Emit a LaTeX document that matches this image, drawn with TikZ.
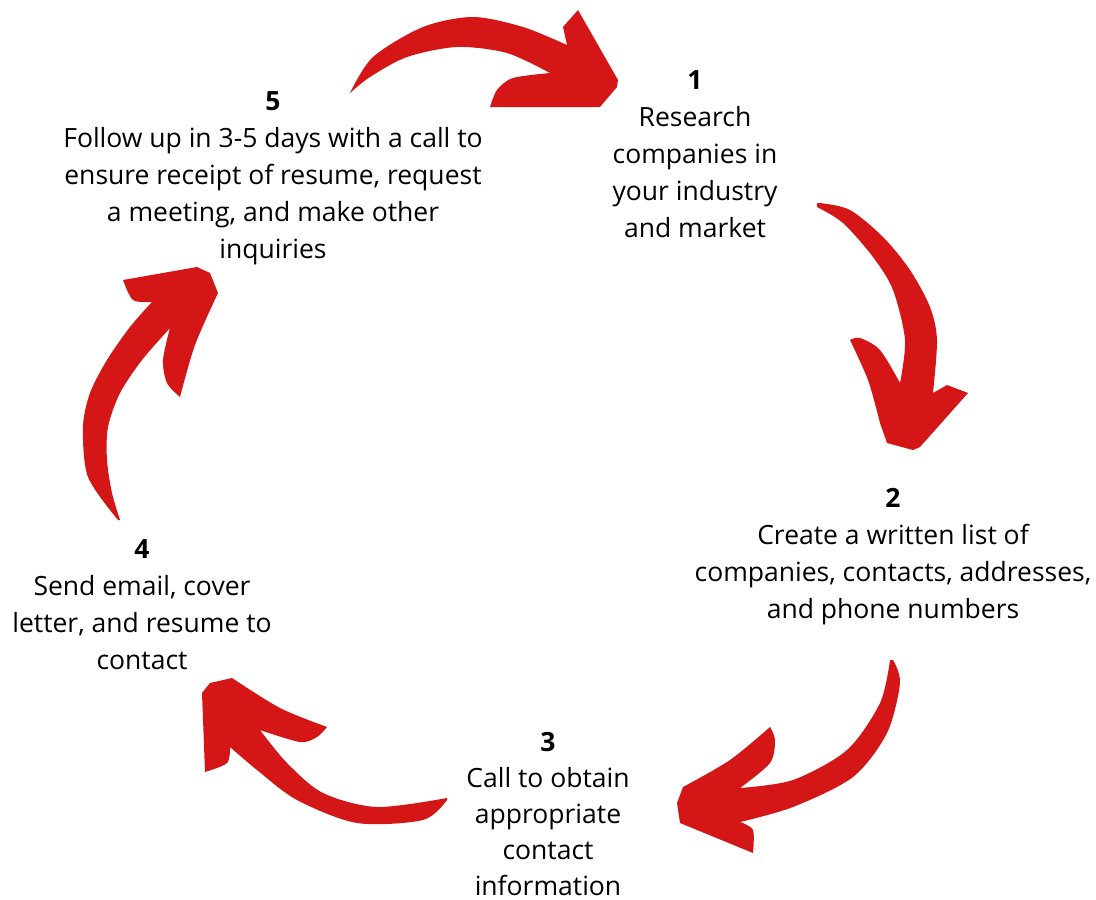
\documentclass[tikz,border=0pt]{standalone}
\usepackage{fontspec}
\setmainfont{Open Sans}
\usepackage{tikz}
\definecolor{brushred}{HTML}{D41616}
\tikzstyle{stepnode}=[align=center,font=\fontsize{26.5}{37}\selectfont,inner sep=0pt]
\tikzstyle{brush}=[fill=brushred]

\begin{document}
\begin{tikzpicture}[x=1pt,y=-1pt]
    \useasboundingbox (0,0) rectangle (1096,900);
    \node[stepnode] (s1) at (695,154) {\textbf{1}\\Research\\companies in\\your industry\\and market};
    \node[stepnode] (s2) at (893,557) {\textbf{2}\\Create a written list of\\companies, contacts, addresses,\\and phone numbers};
    \node[stepnode,font=\fontsize{26.5}{36}\selectfont] (s3) at (548,814) {\textbf{3}\\Call to obtain\\appropriate\\contact\\information};
    \node[stepnode] (s4) at (142,605) {\textbf{4}\\Send email, cover\\letter, and resume to\\contact};
    \node[stepnode] (s5) at (273,178) {\textbf{5}\\Follow up in 3-5 days with a call to\\ensure receipt of resume, request\\a meeting, and make other\\inquiries};
%   5 -> 1
    \fill[brush] plot[smooth] coordinates {(350,93) (373,57) (423,27) (473,17) (523,27) (567,45)}
        -- (563,27) -- (578,10) -- (618,80) -- (617,87) -- (600,107) -- (490,107)
        -- plot[smooth] coordinates {(490,107) (497,90) (513,78) (550,73)}
        -- plot[smooth] coordinates {(550,73) (507,53) (457,47) (407,57) (370,77) (350,93)} -- cycle;
%   1 -> 2
    \fill[brush] plot[smooth] coordinates {(817,205) (820,203) (850,210) (883,237) (910,270) (930,307) (937,340) (933,393)}
        -- (947,385) -- (968,393) -- (920,447) -- (913,450) -- (887,443) -- (880,423)
        -- plot[smooth] coordinates {(880,423) (868,380) (850,340)}
        -- plot[smooth] coordinates {(850,340) (860,338) (880,350) (900,383)}
        -- plot[smooth] coordinates {(900,383) (905,340) (893,290) (873,257) (843,223) (817,207)} -- cycle;
%   2 -> 3
    \fill[brush] plot[smooth] coordinates {(893,660) (900,683) (887,733) (853,777) (793,807) (740,822)}
        -- plot[smooth] coordinates {(740,822) (753,830) (753,853)}
        -- (680,823) -- (677,803) -- (683,787)
        -- plot[smooth] coordinates {(683,787) (730,760) (770,727)}
        -- plot[smooth] coordinates {(770,727) (775,740) (770,763) (740,788)}
        -- plot[smooth] coordinates {(740,788) (793,780) (847,750) (880,703) (890,660)} -- cycle;
%   3 -> 4
    \fill[brush] plot[smooth] coordinates {(447,800) (423,820) (357,823) (297,800) (257,770) (230,747)}
        -- plot[smooth] coordinates {(230,747) (227,763) (205,772)}
        -- (202,693) -- (210,683) -- (232,678)
        -- plot[smooth] coordinates {(232,678) (280,708) (327,727)}
        -- plot[smooth] coordinates {(327,727) (317,737) (300,742) (260,730)}
        -- plot[smooth] coordinates {(260,730) (287,763) (323,793) (377,807) (447,798)} -- cycle;
%   4 -> 5
    \fill[brush] plot[smooth] coordinates {(118,520) (88,477) (83,427) (90,393) (107,360) (130,327) (152,302)}
        -- plot[smooth] coordinates {(152,302) (133,300) (123,280)}
        -- (197,267) -- (210,273) -- (218,293)
        -- plot[smooth] coordinates {(218,293) (195,345) (180,397)}
        -- plot[smooth] coordinates {(180,397) (167,383) (163,360) (170,328)}
        -- plot[smooth] coordinates {(170,328) (142,360) (120,393) (108,427) (107,460) (112,493) (120,520)} -- cycle;
\end{tikzpicture}
\end{document}
